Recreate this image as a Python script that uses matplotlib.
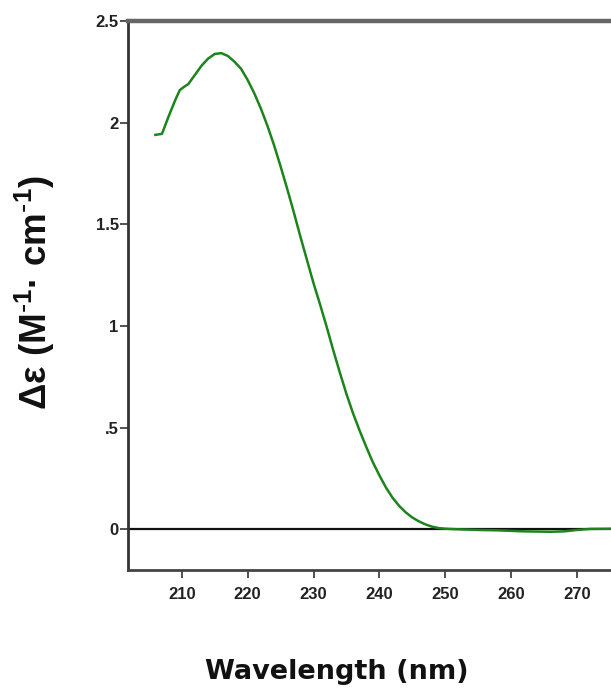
import matplotlib
matplotlib.use("Agg")
import matplotlib.pyplot as plt

plt.rcParams['mathtext.default'] = 'regular'

wavelength = [206, 207, 208, 209, 209.7, 210.3, 211, 212, 213, 214, 215, 216, 217, 218, 219,
              220, 221, 222, 223, 224, 225, 226, 227, 228, 229, 230, 231, 232, 233, 234,
              235, 236, 237, 238, 239, 240, 241, 242, 243, 244, 245, 246, 247, 248, 249,
              250, 252, 255, 258, 262, 266, 268, 270, 272, 275, 280]
delta_eps = [1.94, 1.945, 2.03, 2.11, 2.16, 2.175, 2.19, 2.235, 2.28, 2.315, 2.338, 2.342, 2.328, 2.30, 2.265,
             2.21, 2.145, 2.07, 1.985, 1.89, 1.785, 1.675, 1.56, 1.44, 1.325, 1.21, 1.105, 0.995, 0.88, 0.77,
             0.665, 0.57, 0.485, 0.405, 0.33, 0.265, 0.205, 0.155, 0.115, 0.083, 0.058, 0.039, 0.024, 0.013, 0.006,
             0.003, 0.0, -0.003, -0.005, -0.01, -0.012, -0.01, -0.003, 0.002, 0.003, 0.003]

xticks = [210, 220, 230, 240, 250, 260, 270]
yticks = [0, 0.5, 1, 1.5, 2, 2.5]
ytick_labels = ['0', '.5', '1', '1.5', '2', '2.5']

W, H = 611, 688
fig = plt.figure(figsize=(W / 100, H / 100), dpi=100)
x0, x1 = 201.8, 280.0
px_per_nm = 6.59
left_px, top_px, bottom_px = 127.7, 21, 570
width_px = (x1 - x0) * px_per_nm
ax = fig.add_axes([left_px / W, 1 - bottom_px / H, width_px / W, (bottom_px - top_px) / H])

ax.plot(wavelength, delta_eps, color='#1c841c', lw=1.8, zorder=3)
ax.axhline(0, color='#111111', lw=1.6, zorder=2)

ax.set_xlim(x0, x1)
ax.set_ylim(-0.2, 2.5)
ax.set_xticks(xticks)
ax.set_xticklabels([str(t) for t in xticks])
ax.set_yticks(yticks)
ax.set_yticklabels(ytick_labels)

for lab in ax.get_xticklabels() + ax.get_yticklabels():
    lab.set_fontfamily('Liberation Sans')
    lab.set_fontweight('bold')
    lab.set_fontsize(12)
    lab.set_color('#222222')

ax.tick_params(axis='x', direction='out', length=6, width=1.2, color='#333333', pad=6.5)
ax.tick_params(axis='y', direction='out', length=6, width=1.2, color='#333333', pad=0.5)
ax.tick_params(top=False, right=False)

ax.spines['left'].set_color('#333333')
ax.spines['left'].set_linewidth(2.0)
ax.spines['bottom'].set_color('#444444')
ax.spines['bottom'].set_linewidth(2.0)
ax.spines['top'].set_color('#666666')
ax.spines['top'].set_linewidth(3.2)
ax.spines['right'].set_visible(False)

fig.text(337 / W, 1 - 672 / H, 'Wavelength (nm)', ha='center', va='center',
         fontfamily='DejaVu Sans', fontweight='bold', fontsize=19.5, color='#111111')
fig.text(35 / W, 1 - 293 / H, r'Δε (M$^{\text{-}1}$· cm$^{\text{-}1}$)', ha='center', va='center',
         rotation=90, fontfamily='Liberation Sans', fontweight='bold', fontsize=26.5, color='#111111')

fig.savefig('out.png', dpi=100)
